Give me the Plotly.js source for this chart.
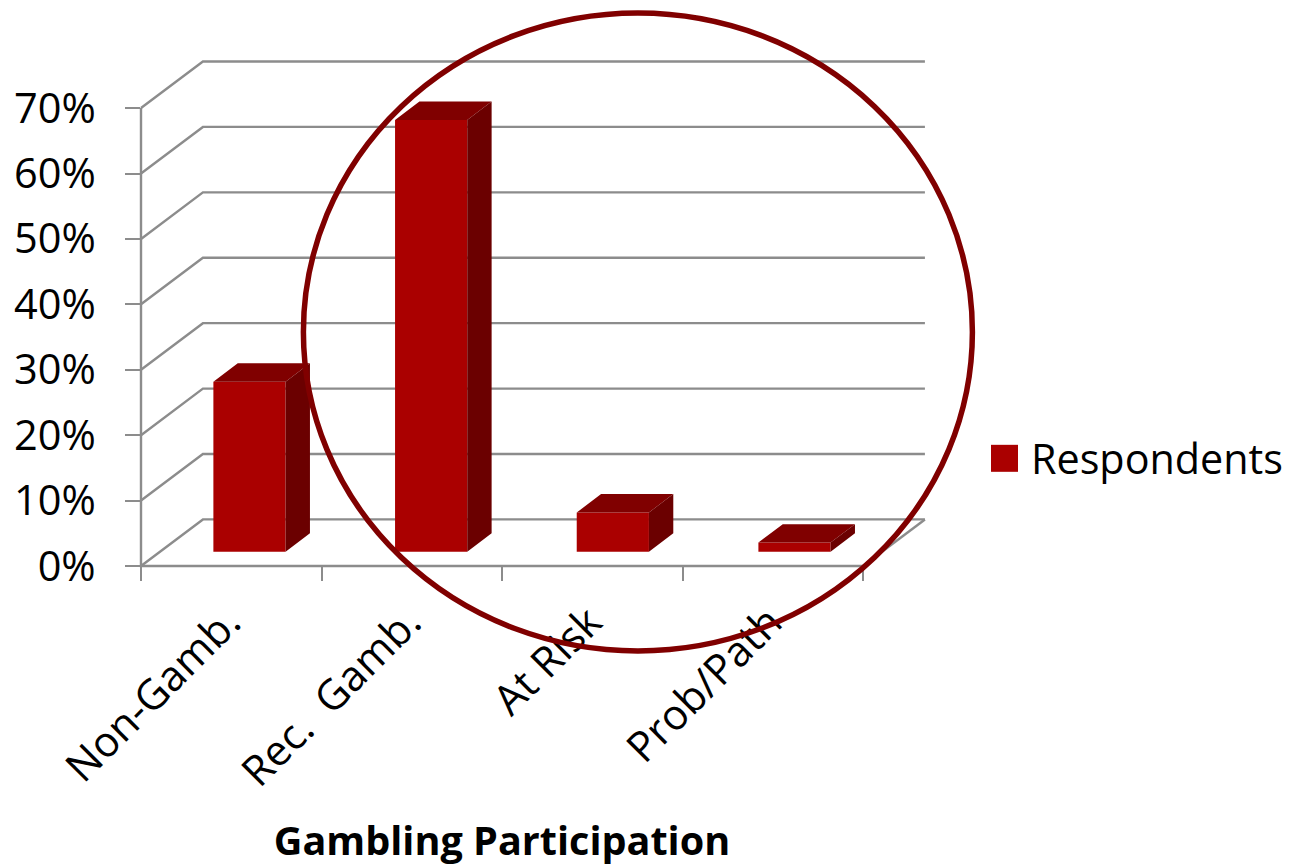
<!DOCTYPE html>
<html>
<head>
<meta charset="utf-8">
<script src="https://cdn.plot.ly/plotly-3.0.1.min.js"></script>
<style>html,body{margin:0;padding:0;background:#fff}#chart{width:1289px;height:868px}</style>
</head>
<body>
<div id="chart"></div>
<script>
// Share of respondents in each gambling participation group
const categories = ['Non-Gamb.', 'Rec.  Gamb.', 'At Risk', 'Prob/Path'];
const respondents = [26, 66, 6, 1.4];
const yTicks = [0, 10, 20, 30, 40, 50, 60, 70];
const yLabels = ['0%', '10%', '20%', '30%', '40%', '50%', '60%', '70%'];
const xBoundaries = [0, 1, 2, 3, 4];

// Box and wall depth, in axis units, for the oblique 3-D look
const xMax = 4, yMax = 72, yTop = 70;
const wallDX = 0.343, wallDY = 7.12;
const barDX = 0.135, barDY = 2.81;
const barWidth = 0.4, barShiftX = 0.101, barDrift = 0.0065, barBase = 2.18;
const labelShift = -0.017;

const grey = '#8c8c8c';
const font = '"Open Sans", sans-serif';

// Plot area in page pixels
const plotL = 141, plotB = 566, plotW = 722, plotH = 471.4;

const centres = categories.map((_, i) => i + 0.5);
const barX = centres.map((c, i) => c + barShiftX + i * barDrift);

// Axis lines, side wall diagonals and back wall gridlines, as fractions of the axes
const px = x => x / xMax, py = y => y / yMax;
const wallLine = path => ({
  type: 'path', layer: 'below', xref: 'paper', yref: 'paper', path,
  line: {color: grey, width: 2.4}
});
const gridShapes = yTicks.map(v => wallLine(
  `M${px(0)},${py(v)}L${px(wallDX)},${py(v + wallDY)}L${px(xMax + wallDX)},${py(v + wallDY)}`
));
gridShapes.push(wallLine(`M${px(xMax)},${py(0)}L${px(xMax + wallDX)},${py(wallDY)}`));
gridShapes.push(wallLine(`M${px(0)},${py(yTop)}L${px(0)},${py(0)}L${px(xMax)},${py(0)}`));

// Top and right faces of each box, derived from its value
const topX = [], topY = [], sideX = [], sideY = [];
respondents.forEach((v, i) => {
  const l = barX[i] - barWidth / 2, r = barX[i] + barWidth / 2;
  const t = barBase + v, b = barBase;
  topX.push(l, r, r + barDX, l + barDX, l, null);
  topY.push(t, t, t + barDY, t + barDY, t, null);
  sideX.push(r, r + barDX, r + barDX, r, r, null);
  sideY.push(b, b + barDY, t + barDY, t, b, null);
});

const face = (x, y, color) => ({
  type: 'scatter', mode: 'lines', x, y, fill: 'toself', fillcolor: color,
  line: {width: 0, color}, showlegend: false, hoverinfo: 'skip'
});

const traces = [
  {type: 'bar', name: 'Respondents', x: barX, y: respondents, base: barBase,
   width: barWidth, marker: {color: '#aa0000', line: {width: 0}}, showlegend: true},
  face(topX, topY, '#800000'),
  face(sideX, sideY, '#6b0000')
];

const ring = {left: 303.4, right: 972.4, top: 12.5, bottom: 651};

const layout = {
  width: 1289, height: 868,
  margin: {l: plotL, r: 1289 - plotL - plotW, t: plotB - plotH, b: 868 - plotB, autoexpand: false},
  paper_bgcolor: '#fff', plot_bgcolor: 'rgba(0,0,0,0)',
  hovermode: false,
  font: {family: font, color: '#000', size: 40},
  xaxis: {
    range: [0, xMax], fixedrange: true, showgrid: false, zeroline: false, showline: false,
    tickmode: 'array', tickvals: centres.map(c => c + labelShift), ticktext: categories,
    ticks: '', tickangle: -45, ticklabelstandoff: 22, tickfont: {size: 42, family: font},
    minor: {tickmode: 'array', tickvals: xBoundaries, ticks: 'outside',
            ticklen: 14, tickwidth: 2, tickcolor: grey, showgrid: false},
    title: {text: '<b>Gambling Participation</b>', font: {size: 39.6, family: font}, standoff: 30}
  },
  yaxis: {
    range: [0, yMax], fixedrange: true, showgrid: false, zeroline: false, showline: false,
    tickmode: 'array', tickvals: yTicks, ticktext: yLabels,
    ticks: 'outside', ticklen: 15, tickwidth: 2, tickcolor: grey,
    ticklabelstandoff: 21, tickfont: {size: 41.5, family: font}
  },
  legend: {
    x: 1.1593, xanchor: 'left', y: 0.2283, yanchor: 'middle',
    itemwidth: 43, font: {size: 41.3, family: font},
    itemclick: false, itemdoubleclick: false, bgcolor: 'rgba(0,0,0,0)'
  },
  shapes: gridShapes.concat([{
    // Highlight ring around the gambling groups
    type: 'circle', layer: 'above', xref: 'paper', yref: 'paper',
    x0: (ring.left - plotL) / plotW, x1: (ring.right - plotL) / plotW,
    y0: (plotB - ring.bottom) / plotH, y1: (plotB - ring.top) / plotH,
    line: {color: '#800000', width: 5.5}, fillcolor: 'rgba(0,0,0,0)'
  }])
};

Plotly.newPlot('chart', traces, layout, {displayModeBar: false, staticPlot: true}).then(() => {
  // Legend swatch at the larger size used for this chart
  document.querySelectorAll('#chart .legend .legendpoints path')
    .forEach(p => p.setAttribute('d', 'M13.5,13.5H-13.5V-13.5H13.5Z'));
});
</script>
</body>
</html>
